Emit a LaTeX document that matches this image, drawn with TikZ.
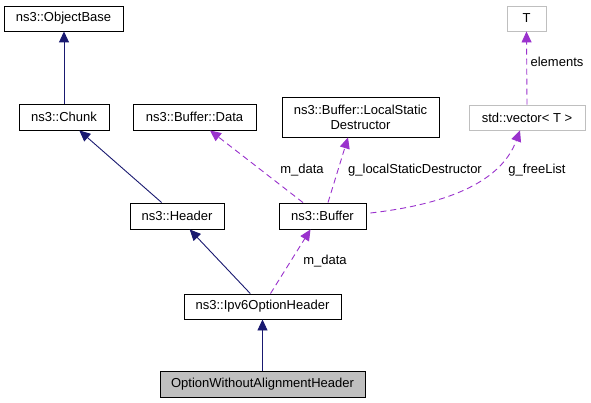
\documentclass[tikz,border=0pt]{standalone}
\usepackage{fontspec}
\setmainfont{Liberation Sans}
\usetikzlibrary{arrows.meta,calc}
\definecolor{navyedge}{HTML}{191970}
\definecolor{purpedge}{HTML}{9A32CD}
\definecolor{greybox}{HTML}{BFBFBF}
\begin{document}
\begin{tikzpicture}[x=1pt,y=-1pt,
  every node/.style={font=\fontsize{13}{15}\selectfont, inner sep=0pt},
  cls/.style={draw=black, line width=0.9pt, minimum width=#1, fill=white, align=center},
  tmpl/.style={draw=greybox, line width=0.9pt, minimum width=#1, fill=white},
  inh/.style={draw=navyedge, line width=0.9pt, -{Triangle[length=11pt,width=10pt,fill=navyedge]}},
  use/.style={draw=purpedge, line width=0.9pt, dash pattern=on 6pt off 4pt, -{Triangle[length=11pt,width=10pt,fill=purpedge]}},
  lbl/.style={font=\fontsize{13}{15}\selectfont}
]
\useasboundingbox[fill=white] (0,0) rectangle (591,403);
% nodes
\node[cls=119pt, minimum height=25pt] (obj) at (63.5,18.5) {ns3::ObjectBase};
\node[cls=90pt, minimum height=26pt] (chk) at (64,117) {ns3::Chunk};
\node[cls=123pt, minimum height=26pt] (dat) at (194.5,117) {ns3::Buffer::Data};
\node[cls=157pt, minimum height=40pt] (lsd) at (360.5,117) {ns3::Buffer::LocalStatic\\Destructor};
\node[tmpl=39pt, minimum height=25pt] (T) at (526.5,18.5) {T};
\node[tmpl=116pt, minimum height=25pt] (vec) at (527,117.5) {std::vector\textless{} T \textgreater{}};
\node[cls=94pt, minimum height=26pt] (hdr) at (177,216) {ns3::Header};
\node[cls=87pt, minimum height=26pt] (buf) at (322.5,216) {ns3::Buffer};
\node[cls=157pt, minimum height=25pt] (ipv) at (262.5,306.5) {ns3::Ipv6OptionHeader};
\node[cls=205pt, minimum height=26pt, fill=greybox] (owa) at (262.5,384) {OptionWithoutAlignmentHeader};
% inheritance edges
\draw[inh] (chk.north) -- (obj.south -| chk.north);
\draw[inh] (hdr) -- (chk);
\draw[inh] (ipv) -- (hdr);
\draw[inh] (owa.north) -- (ipv.south);
% usage edges
\draw[use] ($(buf.north)+(-19.5,0)$) -- ($(dat.south)+(15.5,0)$);
\draw[use] ($(buf.north)+(5.5,0)$) -- ($(lsd.south)+(-12.5,0)$);
\draw[use] ($(buf.east)+(4,-3)$) .. controls (440,205) and (500,185) .. ($(vec.south)+(-7,0)$);
\draw[use] (vec.north) -- (T.south);
\draw[use] ($(ipv.north)+(8,0)$) -- ($(buf.south)+(-12,0)$);
% labels
\node[lbl] (l1) at (302,170) {m\_data};
\node[lbl] (l2) at (415,170) {g\_localStaticDestructor};
\node[lbl] (l3) at (537,170) {g\_freeList};
\node[lbl] (l4) at (557,62) {elements};
\node[lbl] (l5) at (325,261) {m\_data};
\end{tikzpicture}
\end{document}
